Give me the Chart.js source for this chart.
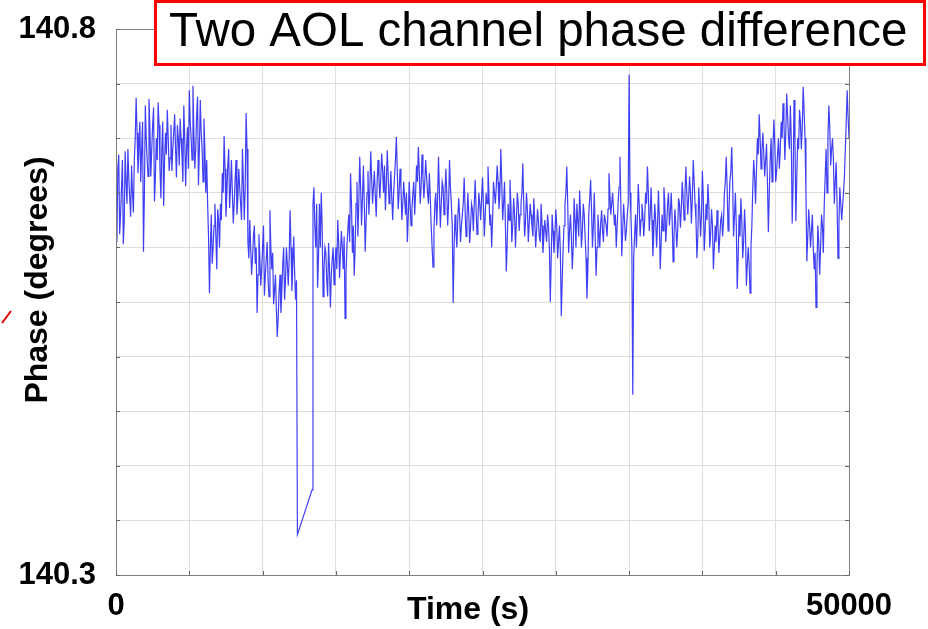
<!DOCTYPE html>
<html>
<head>
<meta charset="utf-8">
<title>Two AOL channel phase difference</title>
<script src="https://cdn.jsdelivr.net/npm/chart.js@4.4.1/dist/chart.umd.min.js"></script>
<style>
  html, body { margin: 0; padding: 0; background: #fff; }
  #wrap { width: 928px; height: 629px; }
</style>
</head>
<body>
<div id="wrap"><canvas id="phaseChart" width="928" height="629"></canvas></div>
<script>
// sampling of the record (seconds between samples)
var sampleStep = 125;
var timeRange = [0, 50000];
var phaseRange = [140.3, 140.8];
var xTickLabels = ['0', '50000'];
var yTickLabels = ['140.3', '140.8'];
var titleText = 'Two AOL channel phase difference';
var xTitle = 'Time (s)';
var yTitle = 'Phase (degrees)';

// phase difference in degrees at t = i*sampleStep (null = no samples)
var phase = [
  140.640, 140.672, 140.612, 140.655, 140.603, 140.688, 140.640, 140.662, 140.628, 140.650,
  140.680, 140.737, 140.668, 140.715, 140.690, 140.596, 140.730, 140.680, 140.736, 140.665,
  140.712, 140.642, 140.700, 140.733, 140.672, 140.690, 140.638, 140.705, 140.726, 140.670,
  140.712, 140.690, 140.722, 140.664, 140.700, 140.718, 140.684, 140.730, 140.656, 140.710,
  140.744, 140.700, 140.748, 140.672, 140.720, 140.657, 140.735, 140.690, 140.718, 140.650,
  140.640, 140.558, 140.630, 140.600, 140.640, 140.580, 140.625, 140.640, 140.668, 140.702,
  140.628, 140.675, 140.636, 140.680, 140.622, 140.662, 140.630, 140.672, 140.640, 140.690,
  140.625, 140.723, 140.604, 140.625, 140.575, 140.610, 140.585, 140.540, 140.612, 140.565,
  140.600, 140.556, 140.590, 140.570, 140.634, 140.580, 140.548, 140.575, 140.518, 140.560,
  140.540, 140.585, 140.552, 140.600, 140.565, 140.634, 140.560, 140.610, 140.552, 140.337,
  null, null, null, null, null, null, null, 140.378, 140.655, 140.600,
  140.563, 140.640, 140.650, 140.555, 140.600, 140.570, 140.604, 140.545, 140.590, 140.566,
  140.600, 140.625, 140.572, 140.615, 140.580, 140.535, 140.600, 140.630, 140.668, 140.595,
  140.574, 140.640, 140.610, 140.683, 140.620, 140.675, 140.596, 140.650, 140.630, 140.688,
  140.640, 140.670, 140.628, 140.680, 140.645, 140.686, 140.650, 140.634, 140.689, 140.640,
  140.670, 140.625, 140.665, 140.701, 140.635, 140.672, 140.625, 140.660, 140.630, 140.605,
  140.660, 140.620, 140.650, 140.630, 140.675, 140.692, 140.640, 140.685, 140.645, 140.680,
  140.650, 140.668, 140.620, 140.582, 140.640, 140.620, 140.683, 140.618, 140.660, 140.630,
  140.672, 140.620, 140.680, 140.640, 140.549, 140.630, 140.600, 140.645, 140.605, 140.630,
  140.664, 140.610, 140.650, 140.604, 140.640, 140.615, 140.662, 140.612, 140.650, 140.625,
  140.664, 140.610, 140.650, 140.674, 140.620, 140.600, 140.660, 140.640, 140.675, 140.635,
  140.690, 140.625, 140.660, 140.578, 140.640, 140.662, 140.605, 140.645, 140.600, 140.650,
  140.615, 140.640, 140.677, 140.610, 140.650, 140.605, 140.640, 140.620, 140.645, 140.600,
  140.635, 140.610, 140.640, 140.595, 140.625, 140.605, 140.620, 140.550, 140.630, 140.595,
  140.635, 140.590, 140.620, 140.537, 140.600, 140.640, 140.674, 140.595, 140.630, 140.580,
  140.645, 140.600, 140.625, 140.652, 140.600, 140.640, 140.610, 140.553, 140.630, 140.662,
  140.600, 140.650, 140.574, 140.630, 140.600, 140.634, 140.605, 140.625, 140.610, 140.668,
  140.630, 140.650, 140.620, 140.600, 140.640, 140.683, 140.592, 140.640, 140.606, 140.630,
  140.758, 140.630, 140.465, 140.610, 140.600, 140.658, 140.610, 140.640, 140.610, 140.650,
  140.674, 140.615, 140.655, 140.592, 140.640, 140.600, 140.652, 140.580, 140.630, 140.655,
  140.605, 140.640, 140.620, 140.650, 140.587, 140.635, 140.600, 140.645, 140.618, 140.660,
  140.625, 140.674, 140.630, 140.665, 140.622, 140.680, 140.640, 140.590, 140.655, 140.610,
  140.670, 140.597, 140.640, 140.658, 140.600, 140.635, 140.580, 140.620, 140.634, 140.595,
  140.625, 140.610, 140.650, 140.683, 140.615, 140.660, 140.692, 140.610, 140.650, 140.562,
  140.630, 140.645, 140.590, 140.635, 140.565, 140.600, 140.558, 140.620, 140.680, 140.640,
  140.700, 140.722, 140.672, 140.705, 140.665, 140.695, 140.614, 140.680, 140.660, 140.717,
  140.660, 140.685, 140.672, 140.715, 140.732, 140.680, 140.741, 140.700, 140.730, 140.622,
  140.735, 140.624, 140.700, 140.726, 140.690, 140.747, 140.700, 140.587, 140.635, 140.600,
  140.630, 140.580, 140.545, 140.620, 140.575, 140.630, 140.595, 140.665, 140.650, 140.730,
  140.675, 140.700, 140.640, 140.678, 140.590, 140.655, 140.625, 140.650, 140.690, 140.744,
  140.700
];

// samples half way between the ones above, at t = (j + 0.5)*sampleStep
var phaseHalf = [
  140.605, 140.685, 140.630, 140.680, 140.625, 140.660, 140.690, 140.645, 140.675, 140.632,
  140.700, 140.705, 140.690, 140.660, 140.715, 140.650, 140.700, 140.665, 140.710, 140.690,
  140.728, 140.665, 140.680, 140.712, 140.645, 140.715, 140.680, 140.685, 140.700, 140.682,
  140.670, 140.705, 140.690, 140.712, 140.675, 140.700, 140.660, 140.700, 140.690, 140.672,
  140.715, 140.680, 140.705, 140.690, 140.738, 140.690, 140.705, 140.660, 140.690, 140.680,
  140.610, 140.600, 140.585, 140.620, 140.610, 140.635, 140.600, 140.625, 140.650, 140.672,
  140.650, 140.690, 140.655, 140.650, 140.640, 140.680, 140.645, 140.655, 140.625, 140.660,
  140.655, 140.690, 140.590, 140.600, 140.590, 140.620, 140.600, 140.575, 140.590, 140.580,
  140.620, 140.575, 140.605, 140.555, 140.600, 140.595, 140.560, 140.545, 140.535, 140.575,
  140.560, 140.600, 140.570, 140.585, 140.590, 140.600, 140.585, 140.575, 140.570, null,
  null, null, null, null, null, null, null, 140.640, 140.620, 140.640,
  140.590, 140.600, 140.620, 140.580, 140.595, 140.555, 140.580, 140.575, 140.600, 140.585,
  140.580, 140.605, 140.595, 140.600, 140.610, 140.575, 140.615, 140.605, 140.640, 140.620,
  140.600, 140.660, 140.640, 140.655, 140.645, 140.640, 140.625, 140.670, 140.650, 140.665,
  140.655, 140.648, 140.660, 140.662, 140.665, 140.670, 140.675, 140.655, 140.668, 140.650,
  140.645, 140.650, 140.680, 140.670, 140.650, 140.655, 140.640, 140.645, 140.650, 140.628,
  140.640, 140.635, 140.660, 140.650, 140.660, 140.670, 140.655, 140.665, 140.660, 140.665,
  140.640, 140.645, 140.600, 140.615, 140.650, 140.645, 140.650, 140.640, 140.655, 140.648,
  140.650, 140.640, 140.655, 140.620, 140.600, 140.615, 140.625, 140.630, 140.620, 140.640,
  140.635, 140.625, 140.630, 140.620, 140.635, 140.640, 140.635, 140.625, 140.640, 140.645,
  140.640, 140.630, 140.640, 140.650, 140.630, 140.625, 140.650, 140.655, 140.660, 140.650,
  140.660, 140.640, 140.620, 140.605, 140.625, 140.640, 140.620, 140.630, 140.625, 140.640,
  140.630, 140.650, 140.640, 140.625, 140.635, 140.622, 140.630, 140.610, 140.625, 140.615,
  140.625, 140.605, 140.620, 140.610, 140.615, 140.630, 140.600, 140.590, 140.615, 140.610,
  140.620, 140.605, 140.595, 140.570, 140.620, 140.650, 140.640, 140.615, 140.610, 140.600,
  140.625, 140.640, 140.610, 140.630, 140.615, 140.630, 140.590, 140.580, 140.645, 140.635,
  140.620, 140.610, 140.600, 140.615, 140.622, 140.615, 140.630, 140.620, 140.635, 140.650,
  140.640, 140.635, 140.630, 140.620, 140.655, 140.640, 140.615, 140.625, 140.615, 140.640,
  140.650, 140.600, 140.590, 140.630, 140.625, 140.640, 140.625, 140.630, 140.625, 140.640,
  140.650, 140.630, 140.625, 140.615, 140.625, 140.620, 140.625, 140.605, 140.615, 140.640,
  140.620, 140.650, 140.632, 140.625, 140.610, 140.620, 140.615, 140.640, 140.635, 140.645,
  140.650, 140.650, 140.645, 140.650, 140.645, 140.660, 140.625, 140.610, 140.635, 140.630,
  140.645, 140.615, 140.625, 140.640, 140.612, 140.620, 140.600, 140.605, 140.620, 140.610,
  140.630, 140.622, 140.660, 140.655, 140.635, 140.670, 140.660, 140.628, 140.620, 140.590,
  140.610, 140.625, 140.605, 140.615, 140.585, 140.585, 140.600, 140.655, 140.665, 140.670,
  140.685, 140.700, 140.690, 140.685, 140.680, 140.660, 140.650, 140.700, 140.690, 140.695,
  140.670, 140.700, 140.690, 140.700, 140.715, 140.705, 140.720, 140.690, 140.700, 140.660,
  140.700, 140.665, 140.690, 140.715, 140.710, 140.725, 140.650, 140.610, 140.620, 140.615,
  140.600, 140.595, 140.580, 140.605, 140.600, 140.620, 140.640, 140.690, 140.700, 140.710,
  140.690, 140.680, 140.660, 140.640, 140.620, 140.640, 140.638, 140.665, 140.715, 140.720
];

// merge both sample sets in time order
var points = [];
phase.forEach(function (v, i) {
    points.push({ x: i * sampleStep, y: v });
    if (i < phaseHalf.length) {
        points.push({ x: (i + 0.5) * sampleStep, y: phaseHalf[i] });
    }
});

var fontFamily = '"Liberation Sans", Arial, sans-serif';

// extra drawing: box round the axes, inward ticks, axis titles, title box
var decorPlugin = {
    id: 'decor',
    afterDraw: function (chart) {
        var ctx = chart.ctx,
            area = chart.chartArea,
            xs = chart.scales.x,
            ys = chart.scales.y;
        ctx.save();

        // frame
        ctx.strokeStyle = '#808080';
        ctx.lineWidth = 1;
        ctx.strokeRect(area.left + 0.5, area.top + 0.5, area.right - area.left, area.bottom - area.top);

        // small inward ticks
        ctx.strokeStyle = '#666';
        ctx.beginPath();
        ys.ticks.forEach(function (t) {
            var py = Math.round(ys.getPixelForValue(t.value)) + 0.5;
            ctx.moveTo(area.left, py); ctx.lineTo(area.left + 4, py);
            ctx.moveTo(area.right, py); ctx.lineTo(area.right - 4, py);
        });
        xs.ticks.forEach(function (t) {
            var px = Math.round(xs.getPixelForValue(t.value)) + 0.5;
            ctx.moveTo(px, area.bottom); ctx.lineTo(px, area.bottom - 4);
        });
        ctx.stroke();

        // axis titles
        ctx.fillStyle = '#000';
        ctx.font = 'bold 32px ' + fontFamily;
        ctx.textAlign = 'center';
        ctx.textBaseline = 'middle';
        ctx.fillText(xTitle, 468, 610);
        ctx.save();
        ctx.translate(38, 280);
        ctx.rotate(-Math.PI / 2);
        ctx.fillText(yTitle, 0, 0);
        ctx.restore();

        // leftover red mark at the left edge
        ctx.strokeStyle = '#e00000';
        ctx.lineWidth = 2;
        ctx.beginPath();
        ctx.moveTo(2, 323);
        ctx.lineTo(11, 311);
        ctx.stroke();

        // title box
        ctx.fillStyle = '#fff';
        ctx.fillRect(155, 1, 769, 64);
        ctx.strokeStyle = '#ff0000';
        ctx.lineWidth = 3;
        ctx.strokeRect(155.5, 1.5, 769, 63);
        ctx.fillStyle = '#000';
        ctx.font = '47.5px ' + fontFamily;
        ctx.textAlign = 'left';
        ctx.textBaseline = 'alphabetic';
        ctx.fillText(titleText, 169, 46);

        ctx.restore();
    }
};

new Chart(document.getElementById('phaseChart'), {
    type: 'line',
    data: {
        datasets: [{
            data: points,
            borderColor: 'rgba(15, 15, 240, 0.8)',
            borderWidth: 1.2,
            pointRadius: 0,
            tension: 0,
            spanGaps: true,
            fill: false
        }]
    },
    options: {
        responsive: false,
        animation: false,
        layout: { padding: { left: 0, right: 79, top: 29, bottom: 0 } },
        plugins: {
            legend: { display: false },
            tooltip: { enabled: false },
            title: { display: false }
        },
        scales: {
            x: {
                type: 'linear',
                min: timeRange[0],
                max: timeRange[1],
                afterFit: function (scale) { scale.height = 54; },
                grid: { color: '#dedede', drawTicks: false },
                border: { display: false },
                ticks: {
                    stepSize: 5000,
                    autoSkip: false,
                    maxRotation: 0,
                    padding: 13,
                    color: '#000',
                    font: { family: fontFamily, size: 31, weight: 'bold' },
                    callback: function (value) {
                        if (value === timeRange[0]) return xTickLabels[0];
                        if (value === timeRange[1]) return xTickLabels[1];
                        return '';
                    }
                }
            },
            y: {
                type: 'linear',
                min: phaseRange[0],
                max: phaseRange[1],
                afterFit: function (scale) { scale.width = 116; },
                grid: { color: '#dedede', drawTicks: false },
                border: { display: false },
                ticks: {
                    stepSize: 0.05,
                    autoSkip: false,
                    padding: 20,
                    color: '#000',
                    font: { family: fontFamily, size: 31, weight: 'bold', lineHeight: 0.4 },
                    callback: function (value) {
                        if (Math.abs(value - phaseRange[0]) < 1e-6) return yTickLabels[0];
                        if (Math.abs(value - phaseRange[1]) < 1e-6) return yTickLabels[1];
                        return '';
                    }
                }
            }
        }
    },
    plugins: [decorPlugin]
});
</script>
</body>
</html>
